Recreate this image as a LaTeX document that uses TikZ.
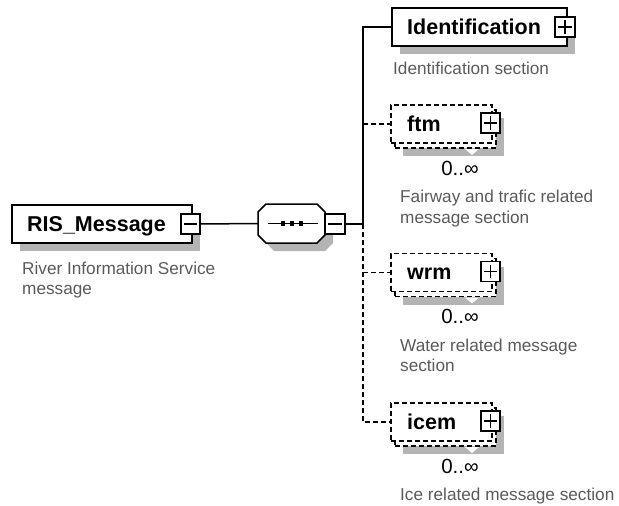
\documentclass[tikz,border=0pt]{standalone}
\usepackage{fontspec}
\setmainfont{Liberation Sans}
\definecolor{shadowgray}{RGB}{180,180,180}
\definecolor{descgray}{RGB}{90,90,90}
\tikzset{
  elbox/.style={draw=black, fill=white, line width=1.6pt, inner sep=0pt},
  dashbox/.style={draw=black, fill=white, line width=1.3pt, dash pattern=on 5pt off 3pt, inner sep=0pt},
  lbl/.style={font=\fontsize{21.5}{24}\selectfont\bfseries, anchor=base west, inner sep=0pt},
  desc/.style={font=\fontsize{17.2}{20.5}\selectfont, text=descgray, anchor=north west, inner sep=0pt, align=left},
  card/.style={font=\fontsize{20.5}{22}\selectfont, inner sep=0pt},
  conn/.style={line width=1.5pt},
  dconn/.style={line width=1.4pt, dash pattern=on 5pt off 3pt},
  togbox/.style={draw=black, fill=white, line width=1.2pt, minimum width=19pt, minimum height=20pt, inner sep=0pt},
  sign/.style={line width=1.1pt}
}
\newcommand{\plussign}[1]{%
  \draw[sign] ([xshift=4pt]#1.west) -- ([xshift=-4pt]#1.east);
  \draw[sign] ([yshift=-4pt]#1.north) -- ([yshift=4pt]#1.south);}
\newcommand{\minussign}[1]{%
  \draw[sign] ([xshift=4pt]#1.west) -- ([xshift=-4pt]#1.east);}
% #1 name, #2 label, #3 centre y, #4 description
\newcommand{\repelem}[4]{%
  \fill[shadowgray] (403,#3-6) rectangle (504,#3+32);
  \node[dashbox, minimum width=101pt, minimum height=38pt] (#1back) at (445.5,#3+5) {};
  \node[dashbox, minimum width=101pt, minimum height=38pt] (#1) at (441.5,#3) {};
  \node[togbox] (#1p) at (490.5,#3-1) {};
  \plussign{#1p}
  \node[lbl] (#1lbl) at (407,#3+7) {#2};
  \fill[white] (465,#3+25) -- (479,#3+25) -- (472,#3+31) -- cycle;
  \node[card] (#1card) at (460,#3+44) {0..∞};
  \node[desc] (#1desc) at (400,#3+66) {#4};
}
\begin{document}
\begin{tikzpicture}[x=1pt,y=-1pt]
\useasboundingbox (0,0) rectangle (619,506);
% RIS_Message
\fill[shadowgray] (20,213) rectangle (200,251);
\node[elbox, minimum width=180pt, minimum height=38pt] (ris) at (102,224) {};
\node[lbl] (rislbl) at (27,231.7) {RIS\_Message};
\node[togbox] (rism) at (190.5,224) {};
\minussign{rism}
\node[desc] (risdesc) at (22,261.6) {River Information Service\\message};
% sequence compositor
\fill[shadowgray] (274,212) -- (325,212) -- (333,220) -- (333,243) -- (325,251) -- (274,251) -- (266,243) -- (266,220) -- cycle;
\draw[conn, fill=white] (266,204) -- (317,204) -- (325,212) -- (325,235) -- (317,243) -- (266,243) -- (258,235) -- (258,212) -- cycle;
\node[minimum width=67pt, minimum height=39pt, inner sep=0pt] (seq) at (291.5,223.5) {};
\draw[line width=1.2pt] (268,223.5) -- (318,223.5);
\foreach \sx in {283,292,301}{\fill (\sx-2.4,221.1) rectangle (\sx+2.4,225.9);}
\node[togbox, minimum width=20pt] (seqm) at (335,224) {};
\minussign{seqm}
\draw[conn] (rism.east) -- (seq.west);
\coordinate (bus) at (363,224);
\draw[conn] (seqm.east) -- (bus);
% Identification
\fill[shadowgray] (400,16) rectangle (575,54);
\node[elbox, minimum width=175pt, minimum height=38pt] (ident) at (479.5,27) {};
\node[lbl] (identlbl) at (407,34.7) {Identification};
\node[togbox, minimum width=20pt] (identp) at (565,27) {};
\plussign{identp}
\node[desc] (identdesc) at (393,62) {Identification section};
\draw[conn] (bus) |- (ident.west);
% optional repeated elements
\repelem{ftm}{ftm}{124}{Fairway and trafic related\\message section}
\repelem{wrm}{wrm}{272.5}{Water related message\\section}
\repelem{icem}{icem}{422}{Ice related message section}
\draw[dconn] (bus) -- (bus |- icem.west) -- (icem.west);
\draw[dconn] (bus |- ftm.west) -- (ftm.west);
\draw[dconn] (bus |- wrm.west) -- (wrm.west);
\end{tikzpicture}
\end{document}
